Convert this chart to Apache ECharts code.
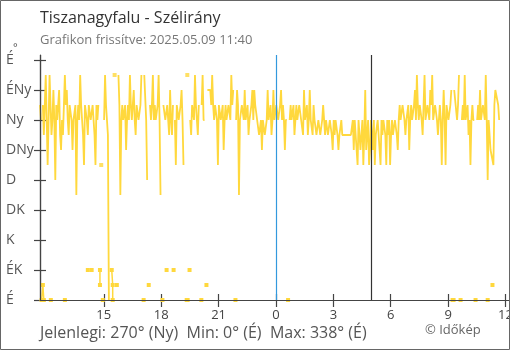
<!DOCTYPE html>
<html><head><meta charset="utf-8">
<script src="https://cdn.jsdelivr.net/npm/echarts@6/dist/echarts.min.js"></script>
<style>html,body{margin:0;padding:0;background:#fff}#c{width:510px;height:350px}</style>
</head><body><div id="c"></div>
<script>
// sampling grid: minutes relative to midnight of 2025.05.09, every 3 minutes from 11:40 the day before
const startMinute = -740;
const stepMinutes = 3;
// wind direction (degrees), one block per 3 hours; null = line break (wrap through north)
const block0 = [292.5,270, null,292.5, 247.5,292.5, 337.5,270, 202.5,270, 337.5,292.5, 247.5,270, 315,270, 180,292.5, 270,292.5, 315,247.5, 225,270, 247.5,292.5, 337.5,292.5, 315,270, 247.5,292.5, 292.5,270, 225,270, 270,292.5, 157.5,270, 292.5,270, 337.5,292.5, 270,247.5, 202.5,292.5, 292.5,270, 247.5,292.5, 292.5,270, 270,292.5, 292.5,247.5, 202.5,292.5];
const block1 = [270,292.5, null,null, 202.5,null, null,270, 337.5,292.5, 270,247.5, 0,null, null,null, null,null, 337.5,null, null,null, 337.5,292.5, 157.5,270, 292.5,270, 270,292.5, 225,270, 292.5,270, 337.5,292.5, 270,292.5, 315,270, 247.5,292.5, 292.5,270, 270,292.5, 337.5,null, null,337.5, 337.5,270, 180,null, null,292.5, 270,292.5, 337.5,270];
const block2 = [292.5,270, 270,292.5, 337.5,270, 157.5,null, null,292.5, 292.5,270, 270,292.5, 270,247.5, 315,270, 247.5,292.5, null,270, 202.5,292.5, 292.5,270, 270,292.5, 315,270, 202.5,null, null,null, 337.5,null, null,270, 247.5,292.5, 292.5,270, 337.5,292.5, 270,247.5, 292.5,null, null,292.5, 337.5,270, 270,null, null,315, 315,315, 315,292.5];
const block3 = [337.5,292.5, 270,292.5, 292.5,270, 202.5,292.5, 292.5,270, 270,292.5, 225,270, 292.5,270, 270,292.5, 292.5,270, 337.5,292.5, 315,null, null,270, 315,292.5, 157.5,270, 270,292.5, 292.5,270, 315,270, 270,292.5, 247.5,270, 270,292.5, 315,270, 315,292.5, 292.5,270, 270,247.5, 247.5,270, 225,270, 270,247.5, 247.5,270, 315,270];
const block4 = [270,292.5, 247.5,270, 315,270, 270,292.5, 292.5,270, 270,292.5, 315,270, 292.5,270, 225,270, 270,null, null,270, 292.5,270, 270,292.5, 247.5,270, 292.5,270, 270,292.5, 292.5,270, 270,247.5, 315,270, 270,292.5, 247.5,270, 315,270, 270,247.5, 292.5,270, 270,247.5, 247.5,270, 270,247.5, 247.5,270, 292.5,270, 247.5,270];
const block5 = [270,247.5, 247.5,270, 270,247.5, 225,270, 247.5,270, 270,247.5, 225,247.5, 247.5,270, 247.5,247.5, 247.5,247.5, 247.5,247.5, 247.5,247.5, 247.5,247.5, 247.5,270, 225,270, 270,225, 202.5,270, 247.5,225, 225,270, 202.5,247.5, 315,225, 247.5,270, 202.5,225, 270,247.5, 225,270, 202.5,247.5, 247.5,270, 270,225, 202.5,270, 247.5,270];
const block6 = [270,247.5, 202.5,270, 247.5,270, 202.5,247.5, 270,247.5, 247.5,270, 270,247.5, 225,270, 292.5,270, 270,292.5, 292.5,270, 247.5,270, 270,292.5, 225,270, 292.5,270, 270,292.5, 315,270, 337.5,292.5, 270,292.5, 292.5,270, 247.5,292.5, 337.5,270, 270,292.5, 292.5,270, 315,292.5, 337.5,270, 270,292.5, 292.5,270, 247.5,270, 292.5,270];
const block7 = [202.5,270, 315,270, 202.5,292.5, 292.5,270, 270,292.5, 315,null, null,315, 315,315, 270,292.5, 337.5,null, null,270, 292.5,270, 337.5,270, 270,292.5, 247.5,270, 202.5,270, 292.5,270, 270,null, null,270, 292.5,270, 315,270, 270,292.5, 292.5,270, 337.5,270, 180,270, 247.5,225, 225,225, 202.5,292.5, 315,315, 315,292.5, 270];

// points near north (0 .. 45 degrees), null separates groups
const northTimes  = [-735, -731, -728, -717, -706, -684, -662, -626, -590, -584, -578, -565, -552, -552, -548, -543, -529, -515, -512, -512, -505, -499, -457, -415, -407, -399, -378, -356, -350, -343, -332, -321, -300, -280, -277, -274, -271, -252, -234, -226, -218, -172, -127, -44, 38, 296, 554, 557, 568, 579, 602, 626, 645, 664, 672, 679];
const northValues = [0, 22.5, 0, null, 0, null, 0, null, 45, null, 45, null, 45, 22.5, null, 0, null, 45, 22.5, 0, null, 22.5, null, 0, null, 22.5, null, 0, null, 45, null, 45, null, 0, 0, null, 45, null, 0, null, 22.5, null, 0, null, 0, null, 0, 0, null, 0, null, 0, null, 0, null, 22.5];

const dirValues = [0, 45, 90, 135, 180, 225, 270, 315, 360];
const dirLabels = ['É', 'ÉK', 'K', 'DK', 'D', 'DNy', 'Ny', 'ÉNy', 'É'];
const hourTicks = [-540, -360, -180, 0, 180, 360, 540, 720];
const hourLabels = ['15', '18', '21', '0', '3', '6', '9', '12'];
const xMin = -740, xMax = 734, yMin = 0, yMax = 367.5;
const midnightMinute = 0;
const sunriseMinute = 300;

const titleText = 'Tiszanagyfalu - Szélirány';
const subText = 'Grafikon frissítve: 2025.05.09 11:40';
const footerText = 'Jelenlegi: 270° (Ny)  Min: 0° (É)  Max: 338° (É)';
const creditText = '© Időkép';

const values = [].concat(block0, block1, block2, block3, block4, block5, block6, block7);
const mainData = values.map((v, i) => [startMinute + i * stepMinutes, v]);
const isolated = [];
values.forEach((v, i) => {
  if (v !== null && (i === 0 || values[i - 1] === null) && (i === values.length - 1 || values[i + 1] === null)) {
    isolated.push(mainData[i]);
  }
});
const northData = northTimes.map((t, i) => [t, northValues[i]]);

const FONT = 'Open Sans';
const YELLOW = '#ffd83d';
const AXIS = '#444';

const chart = echarts.init(document.getElementById('c'), null, {renderer: 'canvas'});
chart.setOption({
  animation: false,
  backgroundColor: '#fff',
  textStyle: {fontFamily: FONT},
  title: [
    {text: titleText, left: 35, top: 5, textStyle: {fontSize: 16, fontWeight: 'normal', color: '#333', fontFamily: FONT}},
    {text: subText, left: 35, top: 29, textStyle: {fontSize: 13, fontWeight: 'normal', color: '#777', fontFamily: FONT}},
    {text: footerText, left: 35, top: 320, textStyle: {fontSize: 16, fontWeight: 'normal', color: '#555', fontFamily: FONT}},
    {text: creditText, left: 420, top: 319, textStyle: {fontSize: 13, fontWeight: 'normal', color: '#666', fontFamily: FONT}}
  ],
  grid: {left: 40, right: 0, top: 55, bottom: 50, containLabel: false, outerBoundsMode: 'none'},
  xAxis: [
    {type: 'value', min: xMin, max: xMax, position: 'bottom',
     axisLine: {show: true, onZero: false, lineStyle: {color: AXIS, width: 1.2}},
     axisTick: {show: true, length: 7, lineStyle: {color: AXIS, width: 1.2}, customValues: hourTicks},
     axisLabel: {show: true, customValues: hourTicks, margin: 9, fontSize: 13, color: '#444', fontFamily: FONT,
       hideOverlap: false, formatter: v => hourLabels[hourTicks.indexOf(v)]},
     splitLine: {show: false}},
    {type: 'value', min: xMin, max: xMax, position: 'bottom', offset: 0,
     axisLine: {show: false, onZero: false},
     axisTick: {show: true, inside: true, length: 6, lineStyle: {color: AXIS, width: 1.2}, customValues: hourTicks},
     axisLabel: {show: false}, splitLine: {show: false}}
  ],
  yAxis: [
    {type: 'value', min: yMin, max: yMax, position: 'left',
     axisLine: {show: true, onZero: false, lineStyle: {color: AXIS, width: 1.2}},
     axisTick: {show: true, length: 6, lineStyle: {color: AXIS, width: 1.2}, customValues: dirValues},
     axisLabel: {show: true, customValues: dirValues, align: 'left', margin: 34, fontSize: 14, color: '#555', fontFamily: FONT,
       formatter: v => dirLabels[dirValues.indexOf(v)]},
     splitLine: {show: false}},
    {type: 'value', min: yMin, max: yMax, position: 'left', offset: 0,
     axisLine: {show: false, onZero: false},
     axisTick: {show: true, inside: true, length: 6, lineStyle: {color: AXIS, width: 1.2}, customValues: dirValues},
     axisLabel: {show: false}, splitLine: {show: false}}
  ],
  series: [
    {type: 'line', data: mainData, showSymbol: false, connectNulls: false, z: 3,
     lineStyle: {color: YELLOW, width: 1.8}, itemStyle: {color: YELLOW},
     markLine: {silent: true, symbol: 'none', label: {show: false}, z: 5,
       data: [
         {xAxis: midnightMinute, lineStyle: {color: '#3399dd', width: 1.2, type: 'solid'}},
         {xAxis: sunriseMinute, lineStyle: {color: '#333', width: 1.2, type: 'solid'}},
         {xAxis: xMin, lineStyle: {color: AXIS, width: 1.2, type: 'solid'}},
         {yAxis: yMin, lineStyle: {color: AXIS, width: 1.2, type: 'solid'}}
       ]}},
    {type: 'scatter', data: isolated, symbol: 'rect', symbolSize: 4, itemStyle: {color: YELLOW}, z: 3},
    {type: 'line', data: northData, showSymbol: true, symbol: 'rect', symbolSize: 4, connectNulls: false, z: 3,
     lineStyle: {color: YELLOW, width: 1.5}, itemStyle: {color: YELLOW}}
  ],
  graphic: [
    {type: 'text', left: 13, top: 42, style: {text: '°', fontSize: 11, fill: '#555', fontFamily: FONT}},
    {type: 'rect', shape: {x: 0.5, y: 0.5, width: 509, height: 349}, style: {fill: 'none', stroke: '#666', lineWidth: 1}, silent: true, z: 100}
  ]
});
</script></body></html>
